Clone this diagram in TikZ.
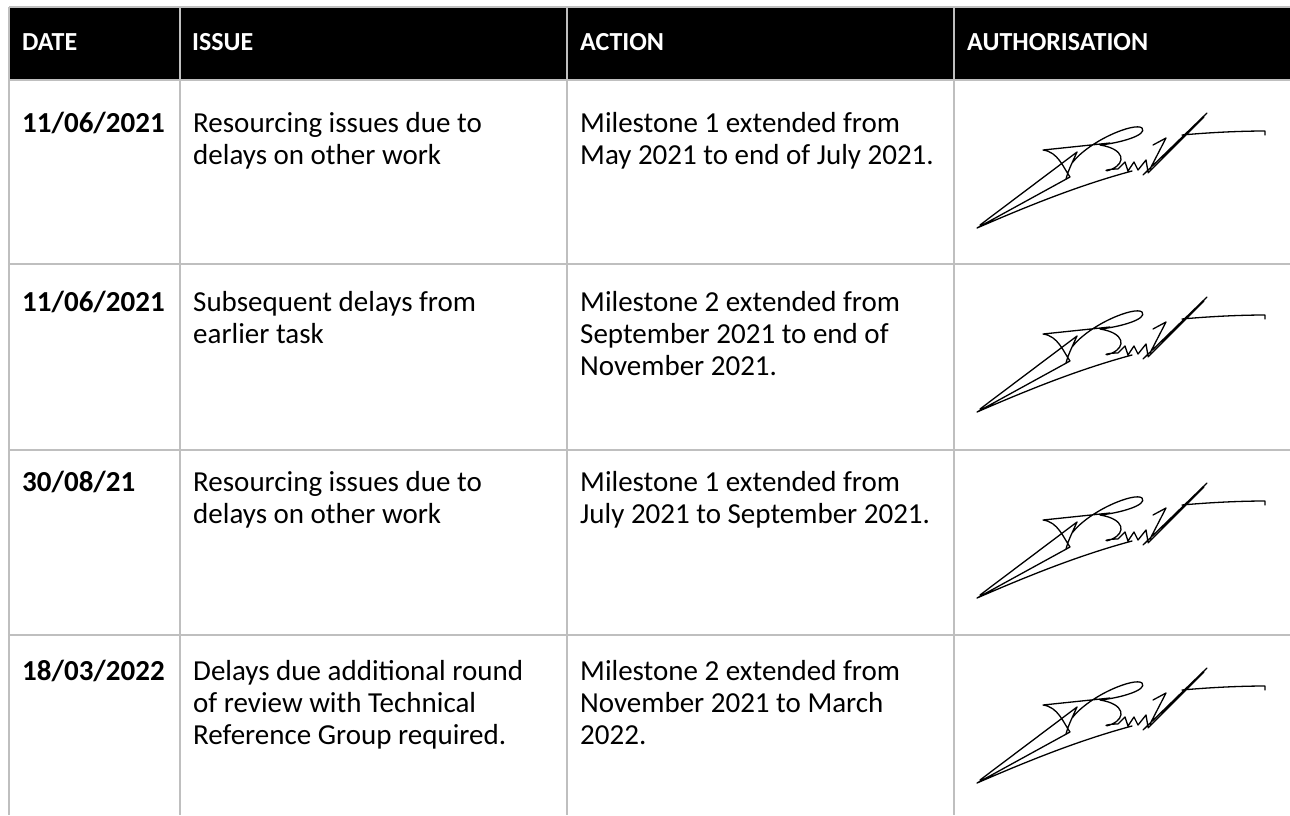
\documentclass[tikz,border=0pt]{standalone}
\usepackage{fontspec}
\setmainfont{Carlito}
\definecolor{rulegray}{HTML}{BFBFBF}
\tikzset{
    rule/.style={line width=2pt,rulegray},
    head/.style={font=\bfseries\fontsize{26}{31}\selectfont,text=white,anchor=base west,inner sep=0pt},
    datecell/.style={font=\bfseries\fontsize{29}{32}\selectfont,anchor=base west,inner sep=0pt},
    % multi-line cells hang on the baseline of their last line
    cell/.style={font=\fontsize{29}{32}\selectfont,anchor=base west,inner sep=0pt,align=left},
    signature/.pic={
        \draw[line width=1.3pt,line cap=round,line join=round]
            (20,120) -- (117,47)
            (17,123) -- (110,72)
            (17,123) .. controls (70,100) and (120,80) .. (172,66)
            (83,45) -- (150,38)
            (83,45) .. controls (98,47) and (103,62) .. (110,72)
            (117,47) .. controls (112,58) and (108,66) .. (106,74)
            (112,58) .. controls (130,35) and (175,17) .. (182,23) .. controls (188,30) and (160,38) .. (140,40)
            (140,40) .. controls (165,44) and (166,58) .. (152,64) .. controls (144,68) and (142,64) .. (158,64)
            (158,64) -- (165,57) -- (168,66) -- (174,57) -- (178,65) -- (186,55) -- (188,67)
            (183,70) -- (247,8)
            (188,68) -- (244,12)
            (193,40) -- (206,33) -- (190,64)
            (222,30) .. controls (255,27) and (285,26) .. (305,26) -- (305,30);
    }
}
\begin{document}
\begin{tikzpicture}[x=1pt,y=-1pt]
    \useasboundingbox (0,0) rectangle (1290,815);
    % header band
    \fill (9,7) rectangle (1290,80);
    % rules
    \foreach \y in {7,80,264,450,635}{\draw[rule] (9,\y) -- (1290,\y);}
    \foreach \x in {9,180,567,954}{\draw[rule] (\x,7) -- (\x,815);}
    % header
    \node[head] (hdate)   at (22,50)  {DATE};
    \node[head] (hissue)  at (192,50) {ISSUE};
    \node[head] (haction) at (580,50) {ACTION};
    \node[head] (hauth)   at (967,50) {AUTHORISATION};
    % row 1
    \node[datecell] (date1)   at (22,132)  {11/06/2021};
    \node[cell]     (issue1)  at (193,164) {Resourcing issues due to\\delays on other work};
    \node[cell]     (action1) at (580,164) {Milestone 1 extended from\\May 2021 to end of July 2021.};
    % row 2
    \node[datecell] (date2)   at (22,311)  {11/06/2021};
    \node[cell]     (issue2)  at (193,343) {Subsequent delays from\\earlier task};
    \node[cell]     (action2) at (580,375) {Milestone 2 extended from\\September 2021 to end of\\November 2021.};
    % row 3
    \node[datecell] (date3)   at (22,491)  {30/08/21};
    \node[cell]     (issue3)  at (193,523) {Resourcing issues due to\\delays on other work};
    \node[cell]     (action3) at (580,523) {Milestone 1 extended from\\July 2021 to September 2021.};
    % row 4
    \node[datecell] (date4)   at (22,680)  {18/03/2022};
    \node[cell]     (issue4)  at (193,744) {Delays due additional round\\of review with Technical\\Reference Group required.};
    \node[cell]     (action4) at (580,744) {Milestone 2 extended from\\November 2021 to March\\2022.};
    % signatures
    \foreach \t [count=\i] in {80,264,450,635}{\pic (sign\i) at (960,\t+25) {signature};}
\end{tikzpicture}
\end{document}
